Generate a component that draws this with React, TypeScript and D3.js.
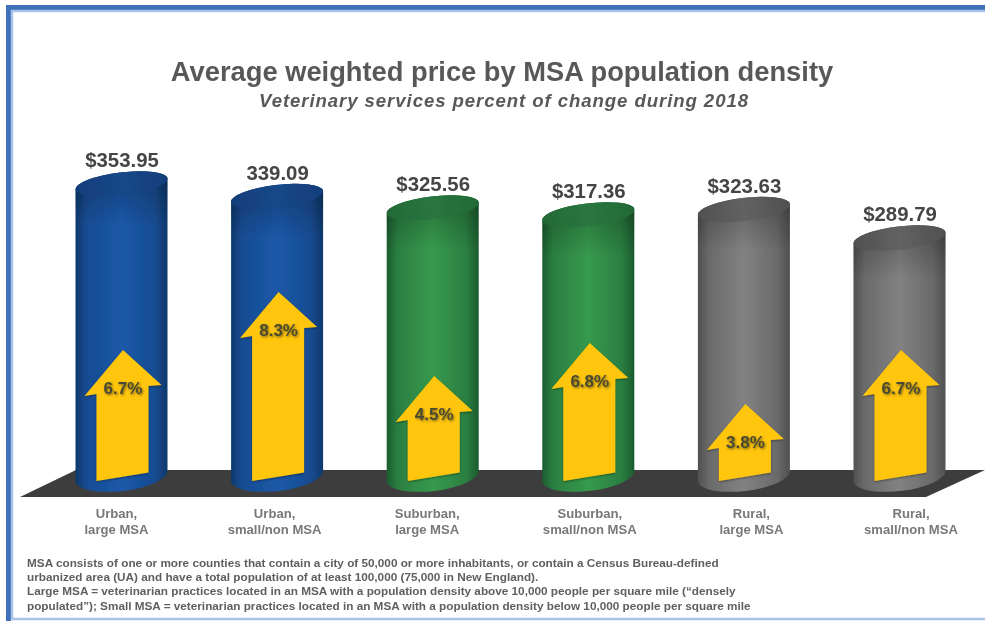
import React from "react";
import * as d3 from "d3";

const categories = [["Urban,", "large MSA"], ["Urban,", "small/non MSA"], ["Suburban,", "large MSA"], ["Suburban,", "small/non MSA"], ["Rural,", "large MSA"], ["Rural,", "small/non MSA"]];
const prices = [353.95, 339.09, 325.56, 317.36, 323.63, 289.79];
const priceLabels = ["$353.95", "339.09", "$325.56", "$317.36", "$323.63", "$289.79"];
const changes = [6.7, 8.3, 4.5, 6.8, 3.8, 6.7];
const colorGroup = ["blue", "blue", "green", "green", "gray", "gray"];
const footnotes = [
  "MSA consists of one or more counties that contain a city of 50,000 or more inhabitants, or contain a Census Bureau-defined",
  "urbanized area (UA) and have a total population of at least 100,000 (75,000 in New England).",
  "Large MSA = veterinarian practices located in an MSA with a population density above 10,000 people per square mile (“densely",
  "populated”); Small MSA = veterinarian practices located in an MSA with a population density below 10,000 people per square mile",
];
const palette: Record<string, { edge: string; side: string; mid: string; top: string; topLight: string }> = {
  blue: { edge: "#0f386c", side: "#174c92", mid: "#1b58a8", top: "#113e7a", topLight: "#164788" },
  green: { edge: "#1c5c30", side: "#2b7f41", mid: "#379a4d", top: "#226a36", topLight: "#2a763f" },
  gray: { edge: "#505050", side: "#6a6a6a", mid: "#828282", top: "#505050", topLight: "#626262" },
};

const FONT = "'Liberation Sans', Arial, sans-serif";
const x = d3.scalePoint<number>().domain(d3.range(6)).range([121.5, 899.5]);
const yTop = d3.scaleLinear().domain([289.79, 353.95]).range([238, 184]);
const arrowLen = d3.scaleLinear().domain([3.8, 4.5, 6.7, 6.8, 8.3]).range([73, 101, 127, 134, 185]);
const labelNudge = [-5, -2.5, -5.5, 1.5, 7.5, 11.5];
const RX = 46, RY_TOP = 11.5, RY_BOT = 15, DY = 5.5, TILT = -6.8, BASE = 476;
const r = Math.hypot(RX, DY);

function cylinderPath(cx: number, yT: number) {
  return `M${cx - RX},${yT + DY} L${cx - RX},${BASE + DY} A${r},${RY_BOT} ${TILT} 0 0 ${cx + RX},${BASE - DY} L${cx + RX},${yT - DY} A${r},${RY_TOP} ${TILT} 0 0 ${cx - RX},${yT + DY} Z`;
}
function shadePath(cx: number, yT: number) {
  return `M${cx - RX},${yT + DY} L${cx - RX},${yT + 42} L${cx + RX},${yT + 42} L${cx + RX},${yT - DY} A${r},${RY_TOP} ${TILT} 0 0 ${cx - RX},${yT + DY} Z`;
}

function arrowPoints(cx: number, pct: number) {
  const tip = 477 - arrowLen(pct);
  const p: [number, number][] = [
    [cx + 1.5, tip],
    [cx + 40, tip + 35],
    [cx + 27, tip + 36],
    [cx + 27, 472.5],
    [cx - 25, 481],
    [cx - 25, tip + 44],
    [cx - 37, tip + 46],
  ];
  return p.map((d) => d.join(",")).join(" ");
}

export default function App() {
  return (
    <svg width={985} height={621} viewBox="0 0 985 621" style={{ position: "absolute", left: 0, top: 0, background: "#fff" }} fontFamily={FONT}>
      <defs>
        <filter id="soft" x="-5%" y="-5%" width="110%" height="110%"><feGaussianBlur stdDeviation="0.55" /></filter>
        <filter id="txtShadow" x="-20%" y="-20%" width="140%" height="140%">
          <feDropShadow dx="1" dy="1.2" stdDeviation="1" floodColor="#000" floodOpacity="0.5" />
        </filter>
        <filter id="arrowShadow" x="-20%" y="-20%" width="140%" height="140%">
          <feDropShadow dx="0" dy="1" stdDeviation="1.2" floodColor="#000" floodOpacity="0.4" />
        </filter>
        <linearGradient id="shade" x1="0" x2="0" y1="0" y2="1">
          <stop offset="0" stopColor="#000" stopOpacity="0.28" />
          <stop offset="1" stopColor="#000" stopOpacity="0" />
        </linearGradient>
        {Object.entries(palette).map(([k, c]) => (
          <React.Fragment key={k}>
            <linearGradient id={`body-${k}`} x1="0" x2="1" y1="0" y2="0">
              <stop offset="0" stopColor={c.edge} />
              <stop offset="0.12" stopColor={c.side} />
              <stop offset="0.5" stopColor={c.mid} />
              <stop offset="0.86" stopColor={c.side} />
              <stop offset="1" stopColor={c.edge} />
            </linearGradient>
            <linearGradient id={`top-${k}`} x1="0" x2="1" y1="0" y2="0">
              <stop offset="0" stopColor={c.top} />
              <stop offset="0.5" stopColor={c.topLight} />
              <stop offset="1" stopColor={c.top} />
            </linearGradient>
          </React.Fragment>
        ))}
      </defs>

      <g filter="url(#soft)">
        <rect x={8.5} y={7.5} width={990} height={640} fill="none" stroke="#3f6fb8" strokeWidth={5} />
        <rect x={12} y={11} width={990} height={608} fill="none" stroke="#a9c3ea" strokeWidth={2.5} />

        <polygon points={[[76, 470], [985, 470], [926, 497], [20, 497]].map((d) => d.join(",")).join(" ")} fill="#3d3d3d" />

        {prices.map((v, i) => {
          const cx = x(i)!;
          const k = colorGroup[i];
          const yT = yTop(v);
          return (
            <g key={i}>
              <path d={cylinderPath(cx, yT)} fill={`url(#body-${k})`} />
              <path d={shadePath(cx, yT)} fill="url(#shade)" />
              <ellipse cx={cx} cy={yT} rx={r} ry={RY_TOP} transform={`rotate(${TILT} ${cx} ${yT})`} fill={`url(#top-${k})`} />
              <polygon points={arrowPoints(cx, changes[i])} fill="#ffc60b" filter="url(#arrowShadow)" />
              <text x={cx + 1.5} y={477 - arrowLen(changes[i]) + 44} textAnchor="middle" fontSize={17} fontWeight="bold" fill="#4a4a30" filter="url(#txtShadow)">{changes[i].toFixed(1)}%</text>
              <text x={cx + 0.5} y={yT - 17} textAnchor="middle" fontSize={20.4} fontWeight="bold" fill="#454545">{priceLabels[i]}</text>
              {categories[i].map((t, j) => (
                <text key={j} x={cx + labelNudge[i]} y={518 + j * 16} textAnchor="middle" fontSize={13.1} fontWeight="bold" fill="#787878">{t}</text>
              ))}
            </g>
          );
        })}

        <text x={502} y={81} textAnchor="middle" fontSize={27.3} fontWeight="bold" fill="#595959">Average weighted price by MSA population density</text>
        <text x={503.5} y={107} textAnchor="middle" fontSize={18.6} fontWeight="bold" fontStyle="italic" fill="#595959" textLength={489} lengthAdjust="spacing">Veterinary services percent of change during 2018</text>

        {footnotes.map((t, j) => (
          <text key={j} x={27} y={567 + j * 14.2} fontSize={11.75} fontWeight="bold" fill="#5f5f5f">{t}</text>
        ))}
      </g>
    </svg>
  );
}
